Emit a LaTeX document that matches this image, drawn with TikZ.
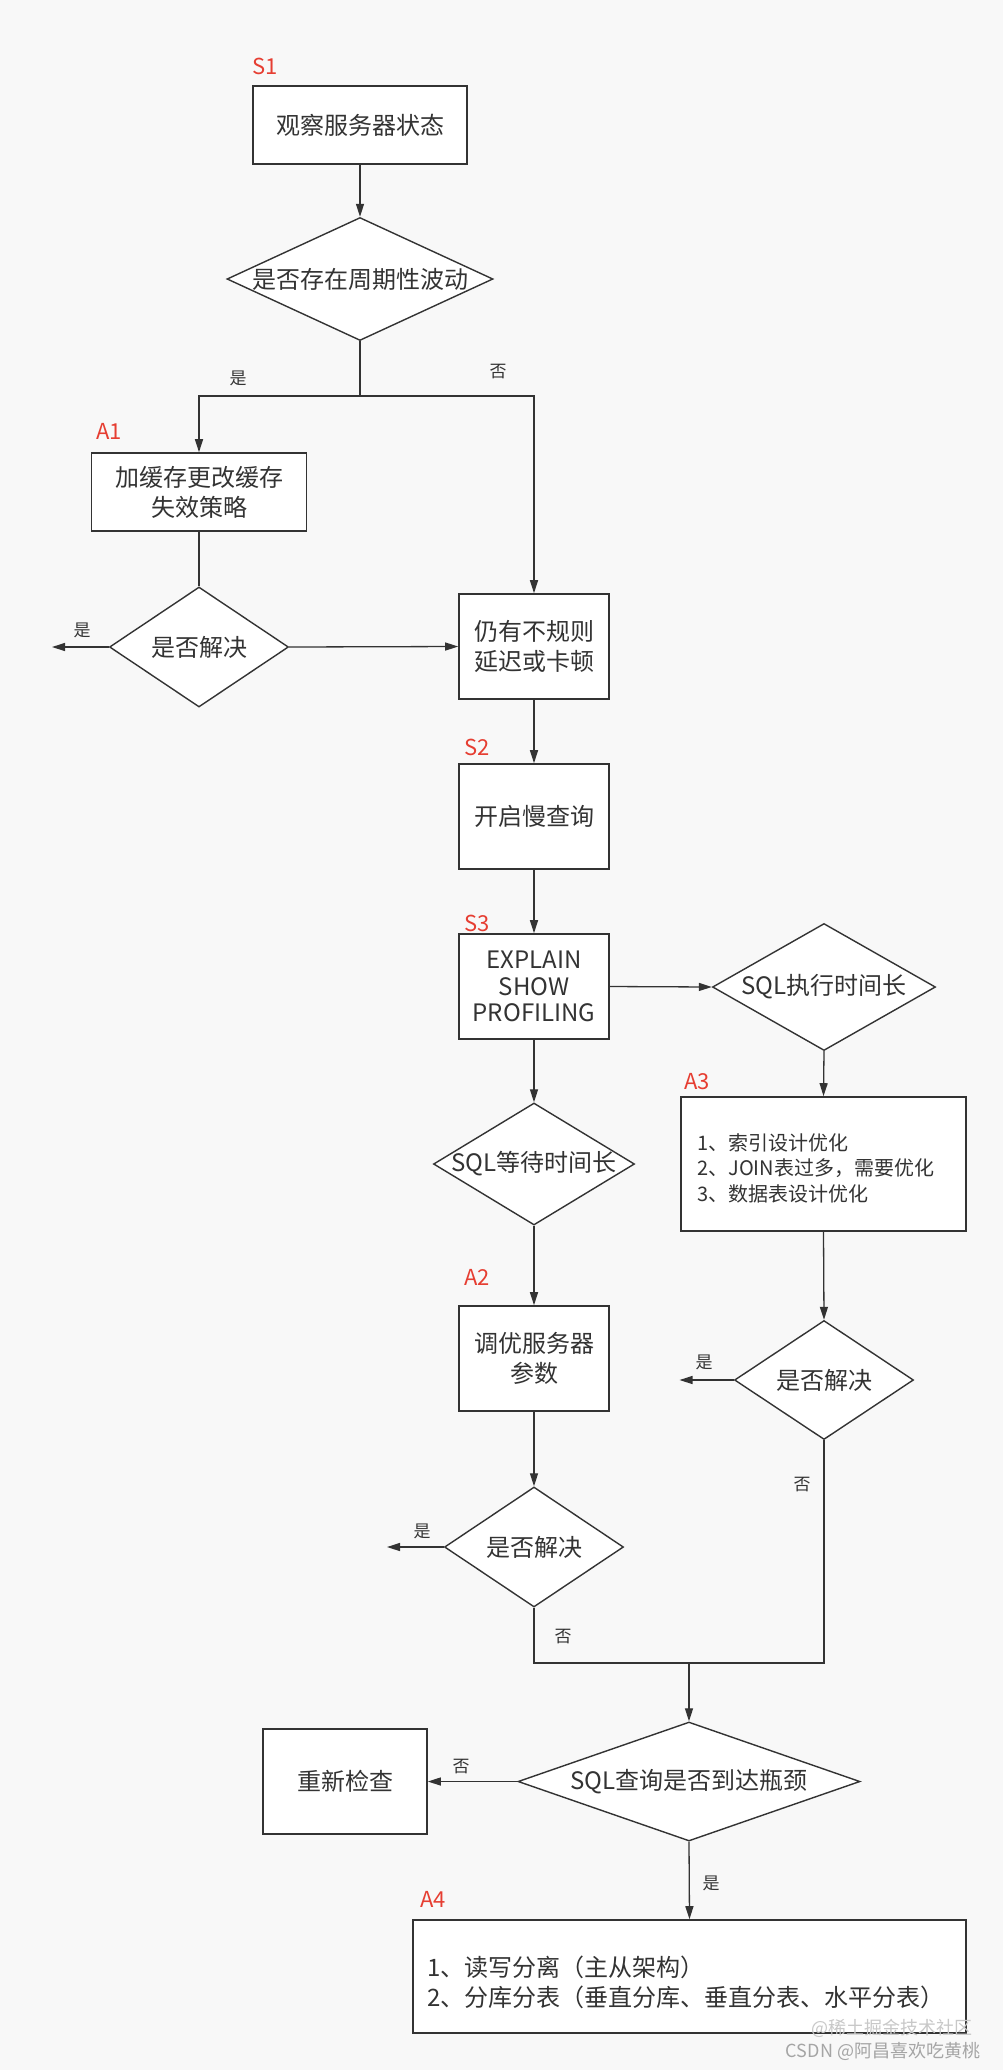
\documentclass[tikz,border=0pt]{standalone}
\usepackage{fontspec}
\setmainfont{Noto Sans CJK SC}
\usetikzlibrary{shapes.geometric,arrows.meta}
\definecolor{bg}{RGB}{248,248,248}
\definecolor{ink}{RGB}{51,51,51}
\definecolor{redlab}{RGB}{230,62,50}
\definecolor{wm1}{RGB}{200,200,200}
\definecolor{wm2}{RGB}{165,165,165}
\begin{document}
\begin{tikzpicture}[x=1pt,y=-1pt,
  txt/.style={text=ink,font=\fontsize{24}{30}\selectfont,align=center},
  box/.style={txt,draw=ink,line width=1.6pt,fill=white,inner sep=0pt},
  dia/.style={shape=diamond,draw=ink,line width=1.4pt,fill=white,inner sep=0pt},
  lab/.style={text=ink,font=\fontsize{17}{20}\selectfont,inner sep=0pt},
  tag/.style={text=redlab,font=\fontsize{22}{26}\selectfont,inner sep=0pt},
  conn/.style={draw=ink,line width=1.3pt},
  arr/.style={conn,-{Triangle[length=13pt,width=8pt]}}]
\useasboundingbox (0,0) rectangle (1003,2070);
\fill[bg] (0,0) rectangle (1003,2070);

% boxes
\node[box,minimum width=214pt,minimum height=78pt] (s1) at (360,125) {观察服务器状态};
\node[box,minimum width=215pt,minimum height=78pt] (a1) at (199,492) {加缓存更改缓存\\失效策略};
\node[box,minimum width=150pt,minimum height=105pt] (r1) at (534,646.5) {仍有不规则\\延迟或卡顿};
\node[box,minimum width=150pt,minimum height=105pt] (s2) at (534,816.5) {开启慢查询};
\node[box,minimum width=150pt,minimum height=105pt,font=\fontsize{24}{26.5}\selectfont] (s3) at (534,986.5) {EXPLAIN\\SHOW\\PROFILING};
\node[box,minimum width=285pt,minimum height=134pt] (a3) at (823.5,1164) {};
\node[txt,anchor=west,align=left,inner sep=0pt,font=\fontsize{20}{25.5}\selectfont] (a3t) at (697,1168) {1、索引设计优化\\2、JOIN表过多，需要优化\\3、数据表设计优化};
\node[box,minimum width=150pt,minimum height=105pt] (a2) at (534,1358.5) {调优服务器\\参数};
\node[box,minimum width=164pt,minimum height=105pt] (rc) at (345,1781.5) {重新检查};
\node[box,minimum width=553pt,minimum height=113pt] (a4) at (689.5,1976.5) {};
\node[txt,anchor=west,align=left,inner sep=0pt] (a4t) at (427,1982) {1、读写分离（主从架构）\\2、分库分表（垂直分库、垂直分表、水平分表）};

% diamonds
\node[dia,minimum width=266pt,minimum height=123pt] (d1) at (360,279) {};
\node[txt] (d1t) at (d1) {是否存在周期性波动};
\node[dia,minimum width=179pt,minimum height=120pt] (dA) at (199,647) {};
\node[txt] (dAt) at (dA) {是否解决};
\node[dia,minimum width=223pt,minimum height=127pt] (dE) at (824,987) {};
\node[txt] (dEt) at (dE) {SQL执行时间长};
\node[dia,minimum width=201pt,minimum height=122pt] (dW) at (534,1164) {};
\node[txt] (dWt) at (dW) {SQL等待时间长};
\node[dia,minimum width=179pt,minimum height=119pt] (dR) at (824,1380) {};
\node[txt] (dRt) at (dR) {是否解决};
\node[dia,minimum width=179pt,minimum height=120pt] (dA2) at (534,1547) {};
\node[txt] (dA2t) at (dA2) {是否解决};
\node[dia,minimum width=342pt,minimum height=119pt] (dq) at (689,1781.5) {};
\node[txt] (dqt) at (dq) {SQL查询是否到达瓶颈};

% red tags
\node[tag] (tS1) at (265,66) {S1};
\node[tag] (tA1) at (109,431) {A1};
\node[tag] (tS2) at (477,747) {S2};
\node[tag] (tS3) at (477,923) {S3};
\node[tag] (tA3) at (697,1082) {A3};
\node[tag] (tA2) at (477,1277) {A2};
\node[tag] (tA4) at (433,1899) {A4};

% free ends and junctions
\coordinate (br) at (360,396);
\coordinate (yA) at (52,647);
\coordinate (yR) at (679.5,1380);
\coordinate (yA2) at (387,1547);
\coordinate (mg) at (689,1663);

% connectors
\draw[arr] (s1.south) -- (d1.north);
\draw[conn] (d1.south) -- (br);
\draw[arr] (br) -| (a1.north);
\draw[arr] (br) -| (r1.north);
\draw[conn] (a1.south) -- (dA.north);
\draw[arr] (dA.west) -- (yA);
\draw[arr] (dA.east) -- (r1.west);
\draw[arr] (r1.south) -- (s2.north);
\draw[arr] (s2.south) -- (s3.north);
\draw[arr] (s3.east) -- (dE.west);
\draw[arr] (s3.south) -- (dW.north);
\draw[arr] (dE.south) -- (a3.north);
\draw[arr] (dW.south) -- (a2.north);
\draw[arr] (a3.south) -- (dR.north);
\draw[arr] (dR.west) -- (yR);
\draw[conn] (dR.south) |- (mg);
\draw[arr] (a2.south) -- (dA2.north);
\draw[arr] (dA2.west) -- (yA2);
\draw[conn] (dA2.south) |- (mg);
\draw[arr] (mg) -- (dq.north);
\draw[arr] (dq.west) -- (rc.east);
\draw[arr] (dq.south) -- (a4.north);

% branch labels
\node[lab] (l1) at (238,378) {是};
\node[lab] (l2) at (498,372) {否};
\node[lab] (l3) at (82,630) {是};
\node[lab] (l4) at (704,1362) {是};
\node[lab] (l5) at (802,1485) {否};
\node[lab] (l6) at (422,1531) {是};
\node[lab] (l7) at (563,1637) {否};
\node[lab] (l8) at (461,1767) {否};
\node[lab] (l9) at (711,1883) {是};

% watermarks
\node[text=wm1,font=\fontsize{18}{20}\selectfont,inner sep=0pt] (w1) at (892,2028) {@稀土掘金技术社区};
\node[text=wm2,font=\fontsize{18}{20}\selectfont,inner sep=0pt] (w2) at (883,2051) {CSDN @阿昌喜欢吃黄桃};
\end{tikzpicture}
\end{document}
